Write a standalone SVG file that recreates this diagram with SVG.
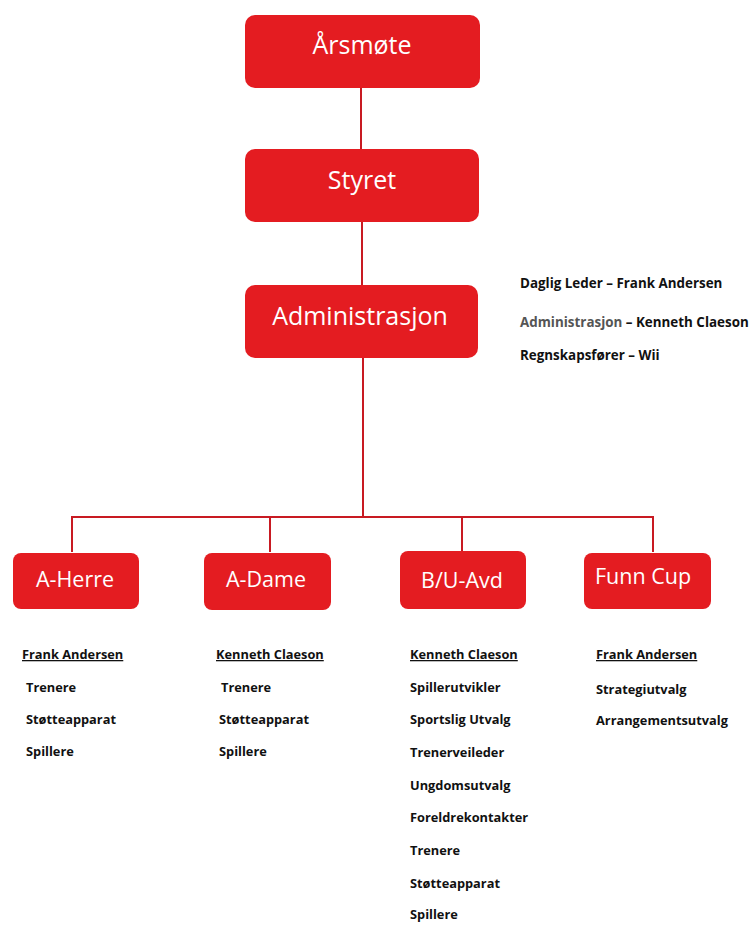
<svg xmlns="http://www.w3.org/2000/svg" width="751" height="926" viewBox="0 0 751 926">
<style>
.box{fill:#E41C21;}
.bt{font-family:"Open Sans",sans-serif;fill:#fff;text-anchor:middle;}
.big{font-size:25px;}
.mid{font-size:21.5px;}
.lst{font-family:"Open Sans",sans-serif;font-weight:bold;font-size:12.8px;fill:#111;}
.inf{font-size:13.4px;}
.hd{text-decoration:underline;}
.conn{stroke:#C81A22;stroke-width:2;fill:none;}
</style>
<rect width="751" height="926" fill="#fff"/>
<g id="connectors">
<line class="conn" x1="361" y1="88" x2="361" y2="149"/>
<line class="conn" x1="362" y1="222" x2="362" y2="285"/>
<line class="conn" x1="363" y1="358" x2="363" y2="517"/>
<polyline class="conn" points="72,552 72,517 653,517 653,552"/>
<line class="conn" x1="270" y1="517" x2="270" y2="552"/>
<line class="conn" x1="462" y1="517" x2="462" y2="552"/>
</g>
<g id="arsmote"><rect class="box" x="245" y="15" width="235" height="73" rx="10"/><text class="bt big" x="362" y="54">Årsmøte</text></g>
<g id="styret"><rect class="box" x="245" y="149" width="234" height="73" rx="10"/><text class="bt big" x="362" y="189">Styret</text></g>
<g id="administrasjon"><rect class="box" x="245" y="285" width="233" height="73" rx="10"/><text class="bt big" x="360" y="325">Administrasjon</text></g>
<g id="admin-info">
<text class="lst inf" x="520" y="288">Daglig Leder – Frank Andersen</text>
<text class="lst inf" x="520" y="327"><tspan fill="#555">Administrasjon</tspan> – Kenneth Claeson</text>
<text class="lst inf" x="520" y="360">Regnskapsfører – Wii</text>
</g>
<g id="a-herre"><rect class="box" x="13" y="553" width="126" height="56" rx="8"/><text class="bt mid" x="75" y="587">A-Herre</text></g>
<g id="a-dame"><rect class="box" x="204" y="553" width="127" height="57" rx="8"/><text class="bt mid" x="266" y="587">A-Dame</text></g>
<g id="bu-avd"><rect class="box" x="400" y="551" width="126" height="58" rx="8"/><text class="bt mid" x="462" y="588">B/U-Avd</text></g>
<g id="funn-cup"><rect class="box" x="584" y="553" width="127" height="56" rx="8"/><text class="bt mid" x="643" y="584">Funn Cup</text></g>
<g id="list-a-herre">
<text class="lst hd" x="22" y="659">Frank Andersen</text>
<text class="lst" x="26" y="692">Trenere</text>
<text class="lst" x="26" y="724">Støtteapparat</text>
<text class="lst" x="26" y="756">Spillere</text>
</g>
<g id="list-a-dame">
<text class="lst hd" x="216" y="659">Kenneth Claeson</text>
<text class="lst" x="221" y="692">Trenere</text>
<text class="lst" x="219" y="724">Støtteapparat</text>
<text class="lst" x="219" y="756">Spillere</text>
</g>
<g id="list-bu-avd">
<text class="lst hd" x="410" y="659">Kenneth Claeson</text>
<text class="lst" x="410" y="692">Spillerutvikler</text>
<text class="lst" x="410" y="724">Sportslig Utvalg</text>
<text class="lst" x="410" y="757">Trenerveileder</text>
<text class="lst" x="410" y="790">Ungdomsutvalg</text>
<text class="lst" x="410" y="822">Foreldrekontakter</text>
<text class="lst" x="410" y="855">Trenere</text>
<text class="lst" x="410" y="888">Støtteapparat</text>
<text class="lst" x="410" y="919">Spillere</text>
</g>
<g id="list-funn-cup">
<text class="lst hd" x="596" y="659">Frank Andersen</text>
<text class="lst" x="596" y="694">Strategiutvalg</text>
<text class="lst" x="596" y="725">Arrangementsutvalg</text>
</g>
</svg>
